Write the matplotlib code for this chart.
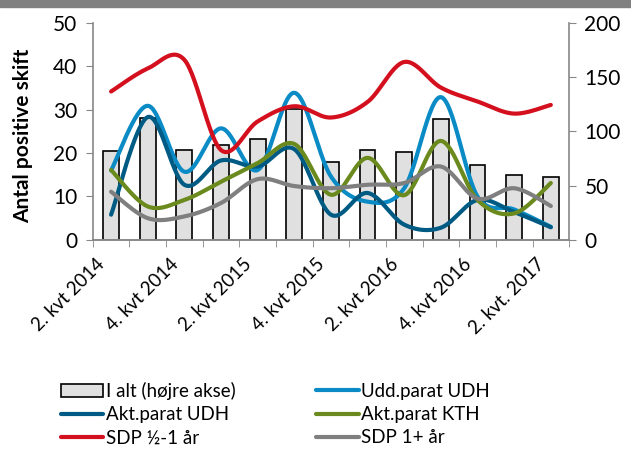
import numpy as np
import matplotlib
matplotlib.use("Agg")
import matplotlib.pyplot as plt
import matplotlib.transforms as mtransforms
from matplotlib.patches import Rectangle

plt.rcParams['font.family'] = ['Lato', 'DejaVu Sans']

# kvartaler
quarters = ['2. kvt 2014', '3. kvt 2014', '4. kvt 2014', '1. kvt 2015', '2. kvt 2015',
            '3. kvt 2015', '4. kvt 2015', '1. kvt 2016', '2. kvt 2016', '3. kvt 2016',
            '4. kvt 2016', '1. kvt 2017', '2. kvt. 2017']

# hoejre akse (soejler)
i_alt = [82, 112, 83, 87, 93, 121, 72, 83, 81, 111, 69, 60, 58]

# venstre akse (linjer)
udd_parat_udh = [16, 30.9, 15.7, 25.7, 16.1, 33.9, 14.6, 8.8, 11.9, 32.9, 10, 7, 3.0]
akt_parat_udh = [5.8, 28.3, 12.7, 18.3, 16.9, 20.9, 5.8, 10.8, 3.5, 2.8, 9.2, 6.4, 2.9]
akt_parat_kth = [16.1, 7.7, 9.2, 13.4, 17.7, 22.1, 10.4, 18.9, 10.3, 22.8, 9.2, 6.1, 13.1]
sdp_half_1 = [34.2, 39.5, 41.5, 20.7, 27.3, 30.8, 28.2, 31.8, 41.0, 35.1, 31.9, 29.1, 31.1]
sdp_1plus = [11.1, 5.0, 5.4, 8.5, 14.0, 12.4, 11.9, 12.7, 13.1, 16.9, 9.5, 11.9, 7.8]


def smooth(x, y, n=30):
    # excel-agtig udglatning (catmull-rom)
    x = np.asarray(x, float)
    y = np.asarray(y, float)
    px = np.concatenate([[x[0]], x, [x[-1]]])
    py = np.concatenate([[y[0]], y, [y[-1]]])
    xs, ys = [], []
    for i in range(1, len(px) - 2):
        p0, p1, p2, p3 = px[i-1], px[i], px[i+1], px[i+2]
        q0, q1, q2, q3 = py[i-1], py[i], py[i+1], py[i+2]
        c1x, c1y = p1 + (p2 - p0) / 6, q1 + (q2 - q0) / 6
        c2x, c2y = p2 - (p3 - p1) / 6, q2 - (q3 - q1) / 6
        t = np.linspace(0, 1, n)
        bx = (1-t)**3*p1 + 3*(1-t)**2*t*c1x + 3*(1-t)*t**2*c2x + t**3*p2
        by = (1-t)**3*q1 + 3*(1-t)**2*t*c1y + 3*(1-t)*t**2*c2y + t**3*q2
        xs.append(bx)
        ys.append(by)
    return np.concatenate(xs), np.concatenate(ys)


fig = plt.figure(figsize=(6.31, 4.5), dpi=100)
fig.patches.append(Rectangle((0, 0.985), 1, 0.015, transform=fig.transFigure,
                             color='#808080', zorder=0))

ax = fig.add_axes([0.147, 0.467, 0.755, 0.482])
ax2 = ax.twinx()

x = np.arange(len(quarters))
bars = ax2.bar(x, i_alt, width=0.43, color='#E0E0E0', edgecolor='black',
               linewidth=1.2, label='I alt (højre akse)')

series = [
    (udd_parat_udh, '#0A8BC6', 'Udd.parat UDH'),
    (akt_parat_udh, '#005B84', 'Akt.parat UDH'),
    (akt_parat_kth, '#6B8A1E', 'Akt.parat KTH'),
    (sdp_half_1, '#D4101F', 'SDP ½-1 år'),
    (sdp_1plus, '#7F7F7F', 'SDP 1+ år'),
]
lines = {}
for vals, col, lab in series:
    sx, sy = smooth(x, vals)
    ln, = ax.plot(sx, sy, color=col, lw=3.0, label=lab, solid_capstyle='round')
    lines[lab] = ln

ax.set_zorder(ax2.get_zorder() + 1)
ax.patch.set_visible(False)

ax.set_xlim(-0.5, len(quarters) - 0.5)
ax.set_ylim(0, 50)
ax2.set_ylim(0, 200)
ax.set_yticks([0, 10, 20, 30, 40, 50])
ax2.set_yticks([0, 50, 100, 150, 200])

ax.set_xticks(x[::2])
ax.set_xticklabels(quarters[::2], rotation=45, ha='right', rotation_mode='anchor')
ax.set_xticks(np.arange(-0.5, len(quarters)), minor=True)
ax.tick_params(axis='x', which='major', length=0, pad=11, labelsize=13.5)
ax.tick_params(axis='x', which='minor', length=5, color='#888888')
ax.tick_params(axis='y', length=5, color='#888888', labelsize=15, pad=6)
ax2.tick_params(axis='y', length=5, color='#888888', labelsize=15, pad=6)

# flyt labels lidt til venstre som i excel
offset = mtransforms.ScaledTranslation(-0.15, 0, fig.dpi_scale_trans)
for lbl in ax.get_xticklabels():
    lbl.set_transform(lbl.get_transform() + offset)

for a in (ax, ax2):
    a.spines['top'].set_visible(False)
    for s in ('left', 'right', 'bottom'):
        a.spines[s].set_color('#888888')
        a.spines[s].set_linewidth(1.2)
ax.spines['right'].set_visible(False)
ax2.spines['left'].set_visible(False)

ax.set_ylabel('Antal positive skift', fontsize=15, fontweight='bold')
ax.yaxis.set_label_coords(-0.125, 0.48)

handles = [bars, lines['Akt.parat UDH'], lines['SDP ½-1 år'],
           lines['Udd.parat UDH'], lines['Akt.parat KTH'], lines['SDP 1+ år']]
labels = [h.get_label() for h in handles]
fig.legend(handles, labels, ncol=2, loc='upper left', bbox_to_anchor=(0.082, 0.172),
           frameon=False, fontsize=13.5, handlelength=2.25, handletextpad=0.15,
           columnspacing=4.3, labelspacing=0.33, borderpad=0)

fig.savefig('out.png', dpi=100)
